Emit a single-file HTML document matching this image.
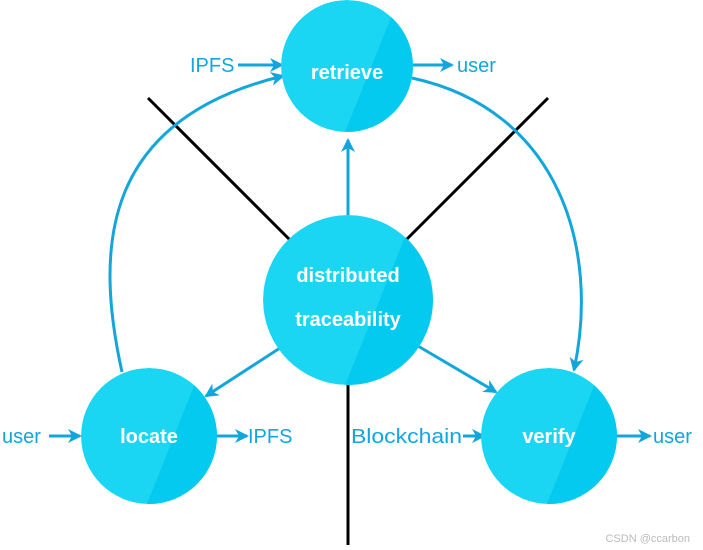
<!DOCTYPE html>
<html><head><style>
body{margin:0;background:#fff;}
svg{display:block;}
.l{font-family:"Liberation Sans",sans-serif;font-size:20px;fill:#12a6dc;}
.w{font-family:"Liberation Sans",sans-serif;font-size:20px;font-weight:bold;fill:#fff;text-anchor:middle;}
.c{fill:#1bd6f2;}
.d{fill:#03caee;}
</style></head><body>
<svg width="703" height="550" viewBox="0 0 703 550">
<defs>
<marker id="a" markerWidth="14" markerHeight="14" refX="12" refY="7" orient="auto" markerUnits="userSpaceOnUse"><path d="M0,0 L14,7 L0,14 L4,7 Z" fill="#12a6dc"/></marker>
<clipPath id="c1"><circle cx="347" cy="66" r="66"/></clipPath>
<clipPath id="c2"><circle cx="348" cy="300" r="85"/></clipPath>
<clipPath id="c3"><circle cx="149" cy="436" r="68"/></clipPath>
<clipPath id="c4"><circle cx="549" cy="436" r="68"/></clipPath>
</defs>
<g stroke="#000" stroke-width="3">
<line x1="148" y1="98" x2="292" y2="242"/>
<line x1="548" y1="98" x2="406" y2="240"/>
<line x1="348" y1="385" x2="348" y2="545"/>
</g>
<g stroke="#12a6dc" stroke-width="3" fill="none" marker-end="url(#a)">
<path d="M122,372 C95,250 100,120 283,76"/>
<path d="M412,78 C560,110 600,250 574,370"/>
<line x1="348" y1="215" x2="348" y2="140"/>
<line x1="280" y1="348" x2="206" y2="396"/>
<line x1="418" y1="346" x2="496" y2="392"/>
<line x1="238" y1="65" x2="282" y2="65"/>
<line x1="413" y1="65" x2="452" y2="65"/>
<line x1="49" y1="436" x2="80" y2="436"/>
<line x1="216" y1="436" x2="247" y2="436"/>
<line x1="463" y1="436" x2="484" y2="436"/>
<line x1="616" y1="436" x2="650" y2="436"/>
</g>
<g clip-path="url(#c1)"><circle class="c" cx="347" cy="66" r="66"/><polygon class="d" points="400,-5 418,-5 418,137 343,137"/></g>
<g clip-path="url(#c2)"><circle class="c" cx="348" cy="300" r="85"/><polygon class="d" points="416,210 438,210 438,390 343,390"/></g>
<g clip-path="url(#c3)"><circle class="c" cx="149" cy="436" r="68"/><polygon class="d" points="203,363 222,363 222,509 145,509"/></g>
<g clip-path="url(#c4)"><circle class="c" cx="549" cy="436" r="68"/><polygon class="d" points="603,363 622,363 622,509 545,509"/></g>
<text class="w" x="347" y="79">retrieve</text>
<text class="w" x="348" y="282">distributed</text>
<text class="w" x="348" y="326">traceability</text>
<text class="w" x="149" y="443">locate</text>
<text class="w" x="549" y="443">verify</text>
<text class="l" x="190" y="72">IPFS</text>
<text class="l" x="457" y="72">user</text>
<text class="l" x="2" y="443">user</text>
<text class="l" x="248" y="443">IPFS</text>
<text class="l" x="351" y="443" textLength="111" lengthAdjust="spacingAndGlyphs">Blockchain</text>
<text class="l" x="653" y="443">user</text>
<text x="690" y="542" font-family="Liberation Sans,sans-serif" font-size="11" fill="#bbb" text-anchor="end">CSDN @ccarbon</text>
</svg>
</body></html>
